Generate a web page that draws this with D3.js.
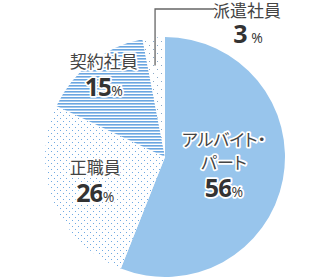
<!DOCTYPE html>
<html><head><meta charset="utf-8">
<script src="https://cdn.jsdelivr.net/npm/d3@7"></script>
<style>
html,body{margin:0;padding:0;background:#fff;}
svg{display:block;}
.palt{font-feature-settings:"palt";}
</style></head>
<body>
<svg id="chart" width="330" height="280"></svg>
<script>
const categories = ["アルバイト・パート", "正職員", "契約社員", "派遣社員"];
const values = [56, 26, 15, 3];
const labelLines = [["アルバイト・", "パート"], ["正職員"], ["契約社員"], ["派遣社員"]];

const W = 330, H = 280, cx = 165, cy = 157, R = 120;
const svg = d3.select("#chart");
const defs = svg.append("defs");

function dotPattern(id, step, r, color) {
  const p = defs.append("pattern").attr("id", id).attr("patternUnits", "userSpaceOnUse")
    .attr("width", step * 2).attr("height", step * 2);
  p.append("rect").attr("width", step * 2).attr("height", step * 2).attr("fill", "#fff");
  [[0, 0], [step, step]].forEach(([x, y]) =>
    p.append("rect").attr("x", x).attr("y", y).attr("width", r).attr("height", r).attr("fill", color));
}
dotPattern("dotsA", 3, 1, "#6fa9e2");
dotPattern("dotsB", 4, 1, "#8aa9c8");
const sp = defs.append("pattern").attr("id", "stripes").attr("patternUnits", "userSpaceOnUse")
  .attr("width", 6).attr("height", 3);
sp.append("rect").attr("width", 6).attr("height", 3).attr("fill", "#fff");
sp.append("rect").attr("y", 0).attr("width", 6).attr("height", 1.6).attr("fill", "#6aa6e1");

const fills = ["#98c5ec", "url(#dotsA)", "url(#stripes)", "url(#dotsB)"];
const labelR = [60, 75, 100, 95];

const pie = d3.pie().sort(null).value(d => d)(values);
const arc = d3.arc().innerRadius(0).outerRadius(R);
const g = svg.append("g").attr("transform", `translate(${cx},${cy})`);

g.selectAll("path").data(pie).join("path")
  .attr("d", arc).attr("fill", (d, i) => fills[i]);

const fontJ = "'Noto Sans CJK JP','Noto Sans',sans-serif";
const fontN = "'Open Sans','Noto Sans',sans-serif";

function halo(sel) {
  sel.attr("stroke", "#fff").attr("stroke-width", 3.5).attr("stroke-linejoin", "round")
     .attr("paint-order", "stroke");
}

pie.forEach((d, i) => {
  const a = (d.startAngle + d.endAngle) / 2;
  const lx = Math.sin(a) * labelR[i], ly = -Math.cos(a) * labelR[i];
  if (i === 3) {
    const tx = 82, ty = -148;
    g.append("path")
      .attr("d", `M${lx - 1},${ly + 3}V${ty}H${tx - 33}`)
      .attr("fill", "none").attr("stroke", "#666").attr("stroke-width", 1.3);
    g.append("text").attr("x", tx).attr("y", ty + 8).attr("text-anchor", "middle")
      .attr("font-family", fontJ).attr("font-size", 17).attr("fill", "#444").text(labelLines[i][0]);
    const n = g.append("text").attr("x", tx + 1).attr("y", ty + 34).attr("text-anchor", "middle")
      .attr("font-family", fontN).attr("fill", "#333");
    n.append("tspan").attr("font-size", 25).attr("font-weight", 700).text(values[i]);
    n.append("tspan").attr("font-size", 14).text(" %");
    return;
  }
  const lines = labelLines[i];
  const lh = 23;
  const total = lines.length * lh + 28;
  let y0 = ly - total / 2 + 15;
  lines.forEach((s, k) => {
    g.append("text").attr("x", lx).attr("y", y0 + k * lh).attr("text-anchor", "middle")
      .attr("class", "palt")
      .attr("font-family", fontJ).attr("font-size", 17).attr("fill", "#444")
      .call(halo).text(s);
  });
  const n = g.append("text").attr("x", lx).attr("y", y0 + (lines.length - 1) * lh + 28)
    .attr("text-anchor", "middle").attr("font-family", fontN).attr("fill", "#333").call(halo);
  n.append("tspan").attr("font-size", 25).attr("font-weight", 700).attr("letter-spacing", -1).text(values[i]);
  n.append("tspan").attr("font-size", 14).text("%");
});
</script>
</body></html>
